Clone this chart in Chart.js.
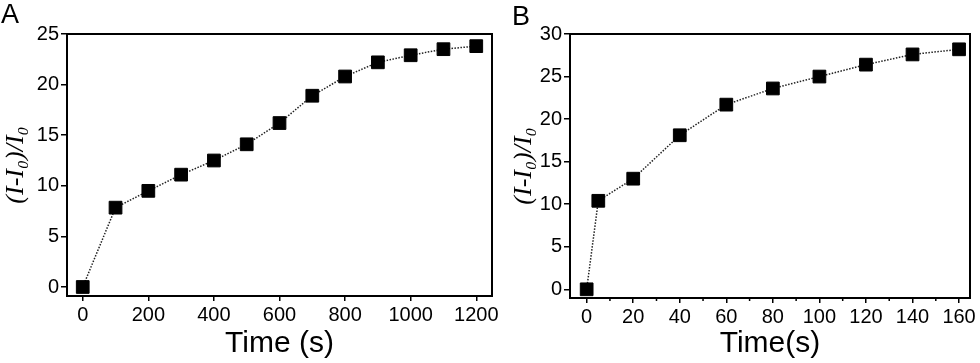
<!DOCTYPE html>
<html>
<head>
<meta charset="utf-8">
<script src="https://cdn.jsdelivr.net/npm/chart.js@4/dist/chart.umd.min.js"></script>
<style>
  body { margin: 0; background: #fff; }
  .linha { display: flex; width: 980px; height: 363px; }
  canvas { display: block; }
</style>
</head>
<body>
<div class="linha">
  <canvas id="graficoA" width="502" height="363"></canvas>
  <canvas id="graficoB" width="478" height="363"></canvas>
</div>
<script>
// dados painel A
var tempoA = [0, 100, 200, 300, 400, 500, 600, 700, 800, 900, 1000, 1100, 1200];
var sinalA = [0, 7.84, 9.5, 11.1, 12.5, 14.1, 16.2, 18.9, 20.8, 22.2, 22.9, 23.5, 23.8];
var tituloXA = 'Time (s)';

// dados painel B
var tempoB = [0, 5, 20, 40, 60, 80, 100, 120, 140, 160];
var sinalB = [0, 10.4, 13.0, 18.1, 21.7, 23.6, 25.0, 26.4, 27.6, 28.2];
var tituloXB = 'Time(s)';

var tituloY = '(I-I\u2080)/I\u2080';

function pontos(xs, ys) {
    return xs.map(function (x, i) { return { x: x, y: ys[i] }; });
}

// moldura em volta da area + letra do painel + ticks menores
var moldura = {
    id: 'moldura',
    afterDraw: function (chart, args, opts) {
        var ctx = chart.ctx;
        var a = chart.chartArea;
        ctx.save();
        ctx.strokeStyle = '#000';
        ctx.lineWidth = 2;
        ctx.strokeRect(a.left, a.top, a.right - a.left, a.bottom - a.top);

        if (opts.menores) {
            var ticks = chart.scales.x.ticks;
            ctx.lineWidth = 1.5;
            ctx.beginPath();
            for (var i = 0; i < ticks.length - 1; i++) {
                var meio = (ticks[i].value + ticks[i + 1].value) / 2;
                var px = chart.scales.x.getPixelForValue(meio);
                ctx.moveTo(px, a.bottom);
                ctx.lineTo(px, a.bottom + 3);
            }
            ctx.stroke();
        }

        ctx.fillStyle = '#000';
        ctx.font = '27px "Liberation Sans", Arial, sans-serif';
        ctx.textBaseline = 'alphabetic';
        ctx.fillText(opts.letra, opts.lx, opts.ly);
        ctx.restore();
    }
};

var fonteTick = { family: '"Liberation Sans", Arial, sans-serif', size: 20 };

function configura(xs, ys, xmin, xmax, xpasso, ymin, ymax, tituloX, larguraY, alturaX, padY, padDireita, letra, lx, ly, menores) {
    return {
        type: 'line',
        data: {
            datasets: [{
                data: pontos(xs, ys),
                borderColor: '#222',
                borderWidth: 1.5,
                borderDash: [1.5, 1.5],
                pointStyle: 'rect',
                pointRadius: 9,
                pointBorderWidth: 1,
                pointBackgroundColor: '#000',
                pointBorderColor: '#000',
                tension: 0
            }]
        },
        options: {
            responsive: false,
            animation: false,
            layout: { padding: { top: 34, right: padDireita, left: 0, bottom: 0 } },
            plugins: {
                legend: { display: false },
                tooltip: { enabled: false },
                moldura: { letra: letra, lx: lx, ly: ly, menores: menores }
            },
            scales: {
                x: {
                    type: 'linear',
                    min: xmin,
                    max: xmax,
                    afterFit: function (s) { s.height = alturaX; },
                    ticks: {
                        stepSize: xpasso,
                        includeBounds: false,
                        color: '#000',
                        padding: 2,
                        maxRotation: 0,
                        font: fonteTick,
                        callback: function (v) { return String(v); }
                    },
                    grid: { drawOnChartArea: false, color: '#000', lineWidth: 1.5, tickLength: 5 },
                    border: { display: true, color: '#000', width: 2 },
                    title: {
                        display: true,
                        text: tituloX,
                        color: '#000',
                        padding: { top: 0, bottom: 1 },
                        font: { family: '"Liberation Sans", Arial, sans-serif', size: 30 }
                    }
                },
                y: {
                    min: ymin,
                    max: ymax,
                    afterFit: function (s) { s.width = larguraY; },
                    ticks: {
                        stepSize: 5,
                        includeBounds: false,
                        color: '#000',
                        padding: 2,
                        font: fonteTick,
                        callback: function (v) { return String(v); }
                    },
                    grid: { drawOnChartArea: false, color: '#000', lineWidth: 1.5, tickLength: 6 },
                    border: { display: true, color: '#000', width: 2 },
                    title: {
                        display: true,
                        text: tituloY,
                        color: '#000',
                        padding: { top: padY, bottom: 0 },
                        font: { family: '"Liberation Serif", "Times New Roman", serif', size: 26, style: 'italic' }
                    }
                }
            }
        },
        plugins: [moldura]
    };
}

var ctx = document.getElementById('graficoA');
var graficoA = new Chart(ctx, configura(tempoA, sinalA, -48, 1248, 200, -0.89, 25, tituloXA, 67, 67, 1, 3, 'A', 1, 23, false));

var ctx = document.getElementById('graficoB');
var graficoB = new Chart(ctx, configura(tempoB, sinalB, -7.16, 164.7, 20, -1.02, 30, tituloXB, 68, 65, 7, 9, 'B', 10, 25, true));
</script>
</body>
</html>
